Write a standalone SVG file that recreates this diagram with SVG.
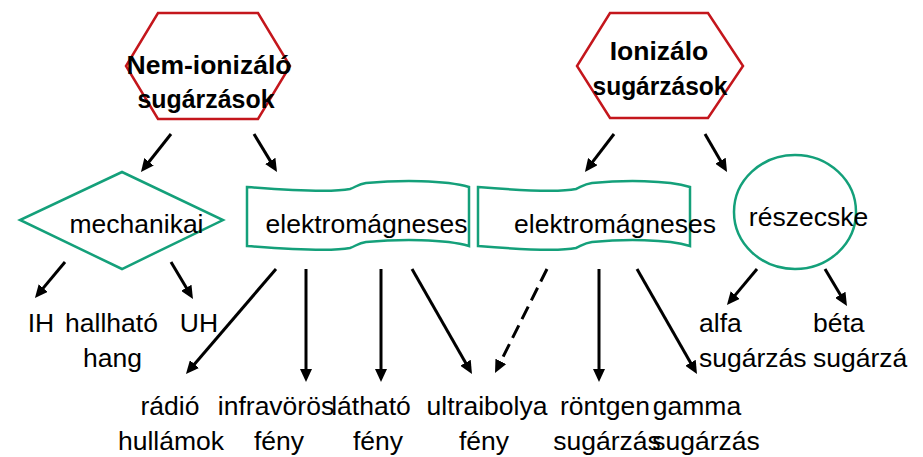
<svg xmlns="http://www.w3.org/2000/svg" width="923" height="457" viewBox="0 0 923 457">
<style>
.hex{fill:none;stroke:#c4161c;stroke-width:2.5}
.grn{fill:none;stroke:#14a07a;stroke-width:2.5}
.b{font-family:"Liberation Sans",Arial,sans-serif;font-weight:bold;font-size:26.5px;fill:#000;text-anchor:middle}
.t{font-family:"Liberation Sans",Arial,sans-serif;font-size:26.5px;fill:#000;text-anchor:middle}
.s{text-anchor:start}
.c line{stroke:#000;stroke-width:3;marker-end:url(#ah)}
.c .d{stroke-dasharray:14 7}
</style>
<defs>
<marker id="ah" markerUnits="userSpaceOnUse" markerWidth="14" markerHeight="12" refX="7" refY="6" orient="auto">
<path d="M0,0 L13,6 L0,12 Z" fill="#000"/>
</marker>
</defs>
<rect width="923" height="457" fill="#fff"/>

<g id="nem-ionizalo">
<polygon class="hex" points="158,13 258,13 290,66 258,119 158,119 126,66"/>
<text class="b" x="209" y="74">Nem-ionizáló</text>
<text class="b" x="206" y="108" textLength="137" lengthAdjust="spacingAndGlyphs">sugárzások</text>
</g>
<g id="ionizalo">
<polygon class="hex" points="610,13 708,13 743,66 708,118 610,118 577,66"/>
<text class="b" x="659" y="60">Ionizálo</text>
<text class="b" x="660" y="95" textLength="135" lengthAdjust="spacingAndGlyphs">sugárzások</text>
</g>
<g id="mechanikai">
<polygon class="grn" points="122,172 223,220 122,269 20,220"/>
<text class="t" x="136.5" y="233">mechanikai</text>
</g>
<g id="elektromagneses-1">
<path class="grn" d="M247,187 C285,190 330,193 350,189 C356,187 358,184 366,183 C400,180 445,180 469,187 L469,246 C445,239 400,239 366,242 C358,243 356,246 350,248 C330,252 285,249 247,246 Z"/>
<text class="t" x="366.5" y="233">elektromágneses</text>
</g>
<g id="elektromagneses-2">
<path class="grn" d="M478,187 C514,190 557,193 576,189 C581,187 584,184 592,183 C624,180 667,180 690,187 L690,246 C667,239 624,239 592,242 C584,243 581,246 576,248 C557,252 514,249 478,246 Z"/>
<text class="t" x="615" y="233">elektromágneses</text>
</g>
<g id="reszecske">
<ellipse class="grn" cx="795" cy="212" rx="61" ry="57"/>
<text class="t" x="808.5" y="226">részecske</text>
</g>

<g id="ih"><text class="t" x="41" y="332">IH</text></g>
<g id="hallhato"><text class="t" x="111.5" y="332">hallható</text><text class="t" x="112.5" y="367">hang</text></g>
<g id="uh"><text class="t" x="199" y="332">UH</text></g>
<g id="radio"><text class="t" x="170" y="415">rádió</text><text class="t" x="171" y="450">hullámok</text></g>
<g id="infravoros"><text class="t" x="276" y="415">infravörös</text><text class="t" x="279" y="450">fény</text></g>
<g id="lathato"><text class="t" x="371" y="415">látható</text><text class="t" x="378" y="450">fény</text></g>
<g id="ultraibolya"><text class="t" x="487" y="415">ultraibolya</text><text class="t" x="484" y="450">fény</text></g>
<g id="rontgen"><text class="t" x="605" y="415">röntgen</text><text class="t" x="607" y="450">sugárzás</text></g>
<g id="gamma"><text class="t" x="697" y="415">gamma</text><text class="t" x="706" y="450">sugárzás</text></g>
<g id="alfa"><text class="t s" x="699" y="332">alfa</text><text class="t s" x="699" y="367">sugárzás</text></g>
<g id="beta"><text class="t s" x="813" y="332">béta</text><text class="t s" x="813" y="367">sugárzá</text></g>

<g id="connectors" class="c">
<line x1="171" y1="134" x2="144.7" y2="167.3"/>
<line x1="254" y1="134" x2="273.9" y2="166.9"/>
<line x1="614" y1="134" x2="588.6" y2="167.2"/>
<line x1="705" y1="134" x2="724" y2="166.8"/>
<line x1="65" y1="262" x2="38.8" y2="293.4"/>
<line x1="171" y1="262" x2="189.9" y2="293.8"/>
<line x1="276" y1="269" x2="189.9" y2="369.4"/>
<line x1="306" y1="269" x2="306" y2="376"/>
<line x1="381" y1="269" x2="381" y2="376"/>
<line x1="412" y1="269" x2="469" y2="368.8"/>
<line class="d" x1="547" y1="269" x2="497.7" y2="367.6"/>
<line x1="599" y1="269" x2="599" y2="376"/>
<line x1="637" y1="269" x2="694" y2="368.8"/>
<line x1="757" y1="269" x2="730.8" y2="300.4"/>
<line x1="825" y1="269" x2="843.9" y2="300.8"/>
</g>
</svg>
